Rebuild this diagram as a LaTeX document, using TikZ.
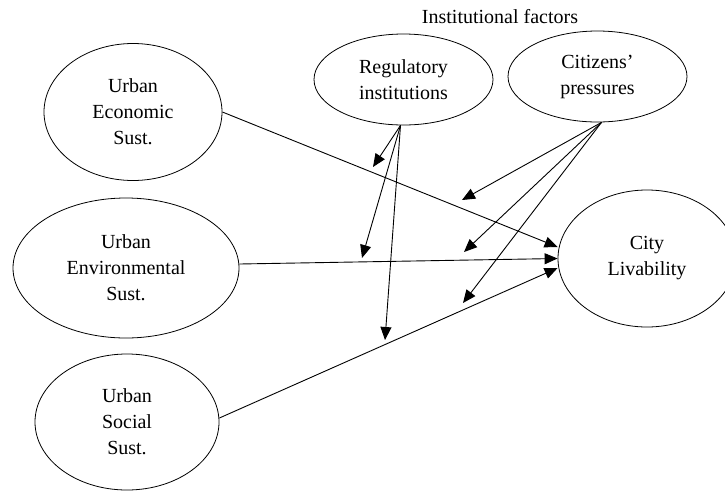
\documentclass[tikz,border=0pt]{standalone}
\usepackage{fontspec}
\setmainfont{Liberation Serif}
\usetikzlibrary{shapes.geometric,arrows.meta}
\begin{document}
\begin{tikzpicture}[x=1pt,y=-1pt,
  oval/.style={draw, ellipse, line width=0.8pt, inner sep=0pt, align=center,
    font=\fontsize{20}{26}\selectfont},
  arr/.style={line width=0.9pt, -{Triangle[length=13pt,width=11pt]}}]
\useasboundingbox (0,0) rectangle (725,491);
\node (title) at (500,17) {\fontsize{20}{22}\selectfont Institutional factors};
\node[oval, minimum width=178pt, minimum height=137pt] (eco) at (133,112) {Urban\\Economic\\Sust.};
\node[oval, minimum width=226pt, minimum height=140pt] (env) at (126,268) {Urban\\Environmental\\Sust.};
\node[oval, minimum width=184pt, minimum height=136pt] (soc) at (127,422) {Urban\\Social\\Sust.};
\node[oval, minimum width=179pt, minimum height=91pt] (reg) at (403.5,79.5) {Regulatory\\institutions};
\node[oval, minimum width=179pt, minimum height=91pt] (cit) at (597.5,76.5) {Citizens'\\pressures};
\node[oval, minimum width=178pt, minimum height=137pt] (city) at (647,258.5) {City\\Livability};
\coordinate (r1) at (373,167);
\coordinate (r2) at (362,258);
\coordinate (r3) at (385,340);
\coordinate (c1) at (462,200);
\coordinate (c2) at (464,252);
\coordinate (c3) at (463,303);
\draw[arr] (eco.east) -- ([yshift=11.5pt]city.west);
\draw[arr] ([yshift=4pt]env.east) -- (city.west);
\draw[arr] ([yshift=4pt]soc.east) -- ([yshift=-9.5pt]city.west);
\draw[arr] ([xshift=-3pt]reg.south) -- (r1);
\draw[arr] ([xshift=-3pt]reg.south) -- (r2);
\draw[arr] ([xshift=-3pt]reg.south) -- (r3);
\draw[arr] ([xshift=4pt]cit.south) -- (c1);
\draw[arr] ([xshift=4pt]cit.south) -- (c2);
\draw[arr] ([xshift=4pt]cit.south) -- (c3);
\end{tikzpicture}
\end{document}
